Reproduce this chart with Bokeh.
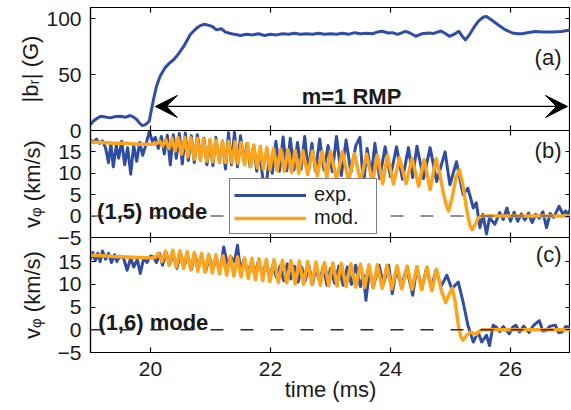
from bokeh.plotting import figure
from bokeh.layouts import column
from bokeh.models import (Range1d, LinearAxis, FixedTicker, Span, Label, Arrow,
                          VeeHead, Legend, LegendItem)
from bokeh.embed import file_html
from bokeh.resources import INLINE

# ---------------- data ----------------
x_ticks = [20, 22, 24, 26]
a_ticks = [0, 50, 100]
v_ticks = [-5, 0, 5, 10, 15]

# panel (a): |b_r| (G)
a_t = [19.00, 19.05, 19.10, 19.17, 19.25, 19.33, 19.42, 19.50, 19.58, 19.66, 19.72, 19.77,
       19.82, 19.86, 19.90, 19.94, 19.98, 20.00, 20.05, 20.10, 20.16, 20.24, 20.32, 20.38,
       20.46, 20.55, 20.62, 20.66, 20.72, 20.77, 20.83, 20.90, 20.97, 21.03, 21.10, 21.18,
       21.25, 21.32, 21.40, 21.50, 21.60, 21.70, 21.80, 21.90, 22.00, 22.10, 22.20, 22.30,
       22.40, 22.50, 22.60, 22.70, 22.80, 22.90, 23.00, 23.10, 23.20, 23.30, 23.40, 23.50,
       23.60, 23.70, 23.78, 23.86, 23.96, 24.03, 24.12, 24.25, 24.33, 24.42, 24.52, 24.64,
       24.72, 24.84, 24.92, 24.98, 25.06, 25.14, 25.20, 25.25, 25.32, 25.40, 25.47, 25.55,
       25.60, 25.68, 25.78, 25.90, 26.03, 26.12, 26.19, 26.28, 26.41, 26.55, 26.70, 26.85, 27.00]
a_br = [5.4, 8.5, 10.5, 12.8, 12.0, 11.3, 12.5, 12.8, 11.8, 13.4, 12.0, 9.8,
        6.5, 4.5, 4.8, 6.3, 8.5, 14.3, 27.7, 39.6, 48.5, 56.0, 60.5, 63.0,
        68.0, 75.0, 81.5, 85.6, 89.0, 91.6, 93.8, 95.0, 94.0, 93.0, 90.0, 91.0,
        88.0, 87.0, 86.0, 85.0, 86.0, 85.5, 86.5, 85.0, 86.0, 85.5, 86.5, 86.0,
        87.0, 86.0, 86.5, 86.0, 87.0, 86.0, 86.5, 86.0, 87.0, 86.0, 87.5, 86.5,
        87.0, 86.5, 88.0, 88.7, 87.2, 87.5, 86.0, 88.7, 87.0, 84.3, 86.5, 87.2,
        86.8, 89.0, 86.5, 84.3, 86.0, 88.7, 84.0, 81.0, 86.0, 93.0, 98.0, 101.5,
        102.0, 99.0, 95.0, 90.5, 87.2, 86.6, 86.6, 87.5, 88.5, 88.0, 88.0, 88.5, 90.0]

# panel (b): (1,5) mode, experiment
b_exp_t = [19.00, 19.05, 19.10, 19.15, 19.20, 19.25, 19.30, 19.34, 19.38, 19.43, 19.47, 19.52,
           19.57, 19.62, 19.67, 19.72, 19.77, 19.82, 19.87, 19.93, 19.98, 20.03, 20.08, 20.13,
           20.18, 20.23, 20.28, 20.33, 20.38, 20.43, 20.48, 20.53, 20.58, 20.63, 20.68, 20.73,
           20.78, 20.84, 20.89, 20.94, 20.99, 21.04, 21.09, 21.15, 21.20, 21.25, 21.30, 21.35,
           21.40, 21.45, 21.50, 21.56, 21.61, 21.66, 21.72, 21.77, 21.82, 21.87, 21.93, 21.98,
           22.03, 22.09, 22.15, 22.21, 22.27, 22.33, 22.39, 22.45, 22.51, 22.57, 22.63, 22.69,
           22.75, 22.82, 22.89, 22.96, 23.03, 23.10, 23.18, 23.26, 23.34, 23.42, 23.49, 23.55,
           23.61, 23.68, 23.74, 23.82, 23.91, 24.00, 24.10, 24.20, 24.30, 24.37, 24.44, 24.55,
           24.66, 24.77, 24.91, 24.99, 25.10, 25.21, 25.29, 25.38, 25.43, 25.49, 25.54, 25.60,
           25.65, 25.74, 25.82, 25.88, 25.94, 26.00, 26.06, 26.12, 26.18, 26.24, 26.30, 26.36,
           26.42, 26.48, 26.54, 26.60, 26.66, 26.72, 26.81, 26.87, 26.92, 26.96, 27.00]
b_exp_v = [17.8, 17.2, 18.0, 17.0, 17.6, 16.0, 12.5, 17.0, 11.5, 16.5, 13.5, 17.5,
           12.0, 16.0, 9.8, 16.5, 12.8, 17.2, 14.2, 17.0, 19.8, 17.5, 18.4, 15.8,
           18.6, 14.5, 18.9, 12.0, 19.0, 13.5, 19.3, 12.2, 19.4, 13.0, 18.8, 12.5,
           19.0, 13.8, 18.2, 12.0, 17.6, 11.8, 18.4, 12.5, 17.5, 11.0, 19.5, 12.0,
           19.6, 11.5, 18.8, 12.8, 17.0, 11.5, 16.5, 10.5, 15.0, 9.0, 7.5, 13.5,
           10.0, 17.5, 10.5, 18.5, 10.6, 18.2, 10.8, 17.2, 11.0, 18.6, 10.2, 17.0,
           10.5, 18.0, 10.8, 16.5, 10.4, 18.6, 9.5, 17.8, 10.2, 16.4, 18.4, 7.4,
           15.8, 9.5, 17.0, 8.8, 16.2, 9.2, 16.2, 8.6, 16.0, 9.0, 16.3, 8.8,
           16.0, 8.1, 15.0, 7.3, 12.7, 5.0, 6.5, 1.9, 3.1, -2.7, 0.4, -4.2,
           -0.4, -1.9, 0.8, -0.8, 1.9, -1.2, 0.9, -1.2, 0.5, -0.9, 0.7, -1.5,
           0.4, -0.5, 1.0, -2.7, 0.6, -0.3, 2.3, 0.5, 1.2, 0.3, 1.8]

# panel (b): (1,5) mode, model
b_mod_t = [19.00, 19.20, 19.40, 19.60, 19.80, 20.00, 20.10, 20.15, 20.20, 20.25, 20.31, 20.36,
           20.41, 20.46, 20.52, 20.57, 20.62, 20.67, 20.73, 20.78, 20.83, 20.88, 20.94, 20.99,
           21.04, 21.09, 21.15, 21.20, 21.25, 21.30, 21.36, 21.41, 21.46, 21.51, 21.57, 21.62,
           21.67, 21.72, 21.78, 21.83, 21.88, 21.94, 21.99, 22.05, 22.11, 22.17, 22.23, 22.29,
           22.35, 22.41, 22.47, 22.54, 22.62, 22.70, 22.78, 22.86, 22.94, 23.00, 23.10, 23.20,
           23.30, 23.40, 23.50, 23.60, 23.70, 23.78, 23.87, 23.95, 24.05, 24.15, 24.26, 24.36,
           24.47, 24.56, 24.66, 24.76, 24.82, 24.88, 24.93, 24.97, 25.03, 25.09, 25.15, 25.21,
           25.27, 25.32, 25.36, 25.41, 25.46, 25.52, 27.00]
b_mod_v = [17.3, 17.2, 17.0, 17.0, 16.8, 16.8, 16.9, 17.6, 16.3, 17.9, 15.8, 18.2,
           15.2, 18.3, 14.5, 18.4, 13.8, 18.3, 13.3, 18.2, 13.0, 18.0, 12.8, 17.9,
           12.7, 17.8, 12.6, 17.6, 12.5, 17.5, 12.4, 17.4, 12.3, 17.2, 12.0, 17.0,
           11.6, 16.6, 11.3, 16.3, 11.0, 16.0, 10.8, 15.8, 10.6, 15.6, 10.4, 15.5,
           10.2, 15.4, 10.0, 15.3, 9.7, 15.2, 9.4, 15.1, 9.0, 15.2, 8.6, 15.0,
           8.3, 14.6, 8.0, 14.5, 7.8, 14.3, 7.6, 14.2, 7.5, 13.6, 7.6, 13.5,
           7.0, 13.2, 6.2, 13.4, 10.0, 5.5, 2.5, 1.2, 4.5, 9.0, 10.8, 7.0,
           1.5, -2.0, -3.2, -2.0, -0.5, 0.0, 0.0]

# panel (c): (1,6) mode, experiment
c_exp_t = [19.00, 19.04, 19.08, 19.12, 19.16, 19.20, 19.25, 19.30, 19.35, 19.40, 19.44, 19.49,
           19.55, 19.61, 19.67, 19.72, 19.78, 19.83, 19.89, 19.94, 20.00, 20.05, 20.10, 20.15,
           20.20, 20.26, 20.32, 20.38, 20.44, 20.50, 20.56, 20.62, 20.68, 20.74, 20.80, 20.86,
           20.92, 20.98, 21.04, 21.10, 21.16, 21.22, 21.28, 21.34, 21.40, 21.45, 21.50, 21.56,
           21.62, 21.68, 21.74, 21.80, 21.86, 21.92, 21.98, 22.04, 22.10, 22.16, 22.22, 22.28,
           22.34, 22.40, 22.46, 22.52, 22.58, 22.64, 22.70, 22.76, 22.82, 22.88, 22.94, 23.00,
           23.07, 23.14, 23.21, 23.28, 23.35, 23.42, 23.50, 23.55, 23.59, 23.65, 23.72, 23.81,
           23.88, 23.97, 24.03, 24.10, 24.18, 24.27, 24.37, 24.44, 24.52, 24.60, 24.68, 24.76,
           24.84, 24.94, 25.02, 25.13, 25.21, 25.29, 25.38, 25.46, 25.52, 25.60, 25.65, 25.71,
           25.76, 25.82, 25.88, 25.98, 26.04, 26.09, 26.15, 26.22, 26.31, 26.38, 26.48, 26.54,
           26.59, 26.66, 26.75, 26.80, 26.86, 26.92, 27.00]
c_exp_v = [15.5, 17.0, 15.2, 16.8, 15.0, 17.3, 15.5, 16.8, 14.8, 16.5, 15.0, 16.2,
           15.8, 13.1, 15.8, 13.8, 15.5, 12.4, 15.9, 14.8, 16.2, 16.0, 14.8, 16.8,
           14.2, 17.0, 14.5, 16.5, 13.5, 16.8, 14.0, 16.2, 13.2, 16.5, 13.8, 15.8,
           12.8, 16.2, 13.5, 15.5, 13.0, 18.2, 14.5, 16.0, 15.0, 18.6, 13.0, 15.5,
           12.5, 14.8, 12.0, 15.2, 12.4, 14.5, 11.8, 14.2, 11.5, 14.0, 10.8, 14.5,
           11.2, 14.0, 10.5, 13.8, 10.8, 14.2, 10.0, 13.6, 10.5, 14.0, 9.8, 13.5,
           10.2, 14.0, 9.8, 13.8, 10.0, 14.2, 9.5, 12.0, 6.5, 13.0, 9.8, 14.2,
           10.0, 14.2, 7.9, 13.5, 9.5, 13.6, 7.6, 13.8, 9.0, 13.5, 9.2, 13.2,
           9.5, 12.0, 9.0, 10.5, 6.1, 1.0, -2.7, -0.5, -2.7, -1.2, -3.5, 1.0,
           0.6, -0.4, 0.7, -0.9, 0.6, 1.0, -0.5, 0.8, -0.6, 0.9, 2.0, -0.3,
           -0.2, 0.8, 1.0, -0.6, -0.5, 0.7, 0.5]

# panel (c): (1,6) mode, model
c_mod_t = [19.00, 19.20, 19.40, 19.60, 19.80, 20.00, 20.08, 20.13, 20.19, 20.25, 20.31, 20.37,
           20.43, 20.49, 20.55, 20.61, 20.67, 20.73, 20.79, 20.85, 20.91, 20.97, 21.03, 21.09,
           21.15, 21.21, 21.27, 21.33, 21.39, 21.45, 21.51, 21.57, 21.63, 21.69, 21.75, 21.81,
           21.87, 21.93, 21.99, 22.06, 22.13, 22.20, 22.27, 22.34, 22.41, 22.48, 22.55, 22.62,
           22.69, 22.76, 22.83, 22.90, 22.97, 23.04, 23.11, 23.18, 23.26, 23.34, 23.42, 23.50,
           23.57, 23.64, 23.71, 23.78, 23.86, 23.94, 24.02, 24.11, 24.19, 24.28, 24.36, 24.44,
           24.52, 24.61, 24.69, 24.77, 24.85, 24.92, 24.98, 25.03, 25.08, 25.13, 25.17, 25.21,
           25.27, 25.33, 25.38, 25.43, 25.48, 25.53, 27.00]
c_mod_v = [16.4, 16.3, 16.1, 16.0, 15.9, 15.8, 15.9, 16.8, 15.0, 17.3, 14.2, 17.5,
           13.8, 17.4, 13.5, 17.2, 13.2, 17.0, 12.9, 16.8, 12.7, 16.6, 12.5, 16.5,
           12.3, 16.3, 12.0, 16.2, 11.8, 16.0, 11.6, 15.8, 11.3, 15.7, 11.0, 15.6,
           10.8, 15.5, 10.6, 15.4, 10.4, 15.3, 10.3, 15.2, 10.1, 15.1, 10.0, 15.0,
           9.9, 14.9, 9.8, 14.8, 9.7, 14.7, 9.6, 14.6, 9.5, 14.5, 9.4, 14.4,
           9.3, 14.3, 9.2, 14.3, 9.1, 14.2, 9.0, 14.1, 9.0, 14.0, 8.9, 13.9,
           8.8, 13.8, 8.6, 13.3, 8.5, 6.0, 7.8, 9.2, 6.0, 1.0, -1.5, -2.3,
           -1.2, -0.5, -0.8, -1.0, -0.3, 0.0, 0.0]

rmp_start, rmp_end, rmp_level = 20.08, 26.95, 21.5

# ---------------- styling ----------------
FONT = "Liberation Sans"
BLUE = "#2f4ea3"
ORANGE = "#fba41c"
X_RANGE = (19, 27)
OVERLAP = 12   # room for edge tick labels that straddle two panels


def style_axis(ax, ticks, show_labels, overrides=None):
    ax.ticker = FixedTicker(ticks=ticks)
    ax.major_tick_in = 5
    ax.major_tick_out = 0
    ax.minor_tick_line_color = None
    ax.axis_line_color = "black"
    ax.axis_line_width = 1.2
    ax.major_tick_line_color = "black"
    ax.major_tick_line_width = 1.2
    if show_labels:
        ax.major_label_text_font = FONT
        ax.major_label_text_font_size = "21px"
        ax.major_label_text_color = "#1a1a1a"
        ax.major_label_standoff = 9
        if overrides:
            ax.major_label_overrides = overrides
    else:
        ax.major_label_text_font_size = "0px"
        ax.major_label_text_color = None
        ax.major_label_standoff = 0


def make_panel(frame_h, yr, yticks, ylabel, lab_standoff, first=False, bottom=False):
    p = figure(frame_width=480, frame_height=frame_h,
               x_range=Range1d(*X_RANGE), y_range=Range1d(*yr),
               output_backend="svg", toolbar_location=None,
               min_border_left=90, min_border_right=0,
               min_border_top=7 if first else OVERLAP,
               min_border_bottom=0 if bottom else OVERLAP,
               margin=(0, 0, 0, 0) if first else (-2 * OVERLAP, 0, 0, 0))
    p.grid.visible = False
    p.outline_line_color = "black"
    p.outline_line_width = 1.2
    p.background_fill_color = "white"
    p.border_fill_color = None
    style_axis(p.xaxis[0], x_ticks, bottom)
    style_axis(p.yaxis[0], yticks, True, {-5: "\u22125"})
    p.yaxis[0].axis_label = ylabel
    p.yaxis[0].axis_label_text_font = FONT
    p.yaxis[0].axis_label_text_font_size = "22px"
    p.yaxis[0].axis_label_text_font_style = "normal"
    p.yaxis[0].axis_label_text_color = "#1a1a1a"
    p.yaxis[0].axis_label_standoff = lab_standoff
    if bottom:
        p.xaxis[0].axis_label = "time (ms)"
        p.xaxis[0].axis_label_text_font = FONT
        p.xaxis[0].axis_label_text_font_size = "22px"
        p.xaxis[0].axis_label_text_font_style = "normal"
        p.xaxis[0].axis_label_text_color = "#1a1a1a"
        p.xaxis[0].axis_label_standoff = -2
        p.xaxis[0].major_label_text_font_size = "21px"
        p.xaxis[0].major_label_standoff = 9
    top = LinearAxis()
    style_axis(top, x_ticks, False)
    p.add_layout(top, "above")
    right = LinearAxis()
    style_axis(right, yticks, False)
    p.add_layout(right, "right")
    return p


def panel_label(p, x, y, txt):
    p.add_layout(Label(x=x, y=y, text=txt, text_font=FONT, text_font_size="22px",
                       text_align="right", text_baseline="middle", text_color="#1a1a1a"))


# (a)
pa = make_panel(123, (0, 110), a_ticks, "|b\u1d63| (G)", 0, first=True)
pa.line(a_t, a_br, line_color=BLUE, line_width=3, line_join="round")
pa.add_layout(Arrow(start=VeeHead(size=22, fill_color="black", line_color="black"),
                    end=VeeHead(size=22, fill_color="black", line_color="black"),
                    x_start=rmp_start, y_start=rmp_level, x_end=rmp_end, y_end=rmp_level,
                    line_color="black", line_width=1.2))
pa.add_layout(Label(x=23.35, y=30.6, text="m=1 RMP", text_font=FONT, text_font_size="22px",
                    text_font_style="bold", text_align="center", text_baseline="alphabetic",
                    text_color="#1a1a1a"))
panel_label(pa, 26.85, 65.6, "(a)")

# (b)
pb = make_panel(107, (-5, 20), v_ticks, "v\u1d69 (km/s)", 10)
pb.add_layout(Span(location=0, dimension="width", line_color="#6e6e6e", line_width=1.5,
                   line_dash="13 17"))
rb_exp = pb.line(b_exp_t, b_exp_v, line_color=BLUE, line_width=3, line_join="round")
rb_mod = pb.line(b_mod_t, b_mod_v, line_color=ORANGE, line_width=3.5, line_join="round")
pb.add_layout(Label(x=19.11, y=1.1, text="(1,5) mode", text_font=FONT, text_font_size="22px",
                    text_font_style="bold", text_align="left", text_baseline="alphabetic",
                    text_color="#1a1a1a"))
panel_label(pb, 26.85, 15.4, "(b)")
legend = Legend(items=[LegendItem(label="exp.", renderers=[rb_exp]),
                       LegendItem(label="mod.", renderers=[rb_mod])],
                location=(139, 3), padding=4, spacing=0, margin=0,
                glyph_width=72, glyph_height=20, label_height=20, label_width=58,
                label_standoff=8, label_text_font=FONT, label_text_font_size="20px",
                label_text_color="#1a1a1a", border_line_color="black", border_line_width=1.2,
                background_fill_color="white", background_fill_alpha=1.0)
pb.add_layout(legend)

# (c)
pc = make_panel(115, (-5, 20.3), v_ticks, "v\u1d69 (km/s)", 10, bottom=True)
pc.add_layout(Span(location=0, dimension="width", line_color="#2a2a2a", line_width=1.5,
                   line_dash="13 17"))
pc.line(c_exp_t, c_exp_v, line_color=BLUE, line_width=3, line_join="round")
pc.line(c_mod_t, c_mod_v, line_color=ORANGE, line_width=3.5, line_join="round")
pc.add_layout(Label(x=19.13, y=1.6, text="(1,6) mode", text_font=FONT, text_font_size="22px",
                    text_font_style="bold", text_align="left", text_baseline="alphabetic",
                    text_color="#1a1a1a"))
panel_label(pc, 26.85, 16.5, "(c)")

layout = column(pa, pb, pc, spacing=0)
open("out.html", "w").write(file_html(layout, INLINE))
